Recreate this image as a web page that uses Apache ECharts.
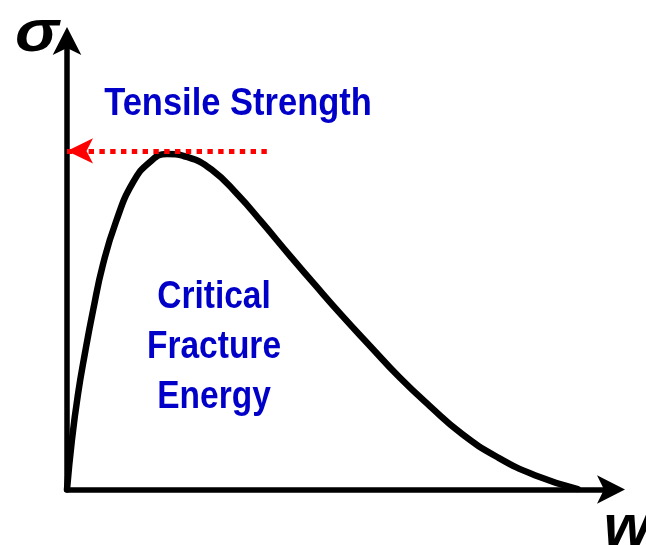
<!DOCTYPE html>
<html>
<head>
<meta charset="utf-8">
<script src="https://cdn.jsdelivr.net/npm/echarts@6/dist/echarts.min.js"></script>
<style>
  html, body { margin: 0; padding: 0; background: #fff; }
  #chart { width: 646px; height: 545px; }
</style>
</head>
<body>
<div id="chart"></div>
<script>
// curve (w on a 0-10 scale, sigma on a 0-10 scale)
const wValues = [0, 0.09, 0.2, 0.33, 0.48, 0.66, 0.9, 1.21, 1.53, 1.84, 2.22, 2.67, 3.14, 3.58, 4.1, 4.56, 5.06, 5.57, 6.12, 6.67, 7.26, 7.9, 8.6, 9.39]
const sigmaValues = [0, 1.1, 2.11, 3.04, 4.0, 5.01, 5.97, 6.84, 7.31, 7.48, 7.41, 7.12, 6.57, 5.96, 5.21, 4.56, 3.87, 3.2, 2.49, 1.86, 1.24, 0.73, 0.32, 0.01]

// red dotted "tensile strength" marker
const tensileStrength = 7.55
const tensileLineFrom = 3.77
const tensileLineTo = 0

const yLabel = 'σ'
const xLabel = 'w'
const topLabel = 'Tensile Strength'
const areaLabel = 'Critical\nFracture\nEnergy'

const font = "'Liberation Sans', Arial, sans-serif"
const blue = '#0000c8'

const chart = echarts.init(document.getElementById('chart'), null, { renderer: 'canvas' })

const axisCommon = {
  type: 'value',
  min: 0,
  max: 10,
  axisLine: {
    show: true,
    symbol: ['none', 'arrow'],
    symbolSize: [21.5, 28],
    symbolOffset: [0, 14],
    lineStyle: { color: '#000', width: 5.5 },
  },
  axisTick: { show: false },
  axisLabel: { show: false },
  splitLine: { show: false },
}

chart.setOption({
  animation: false,
  backgroundColor: '#fff',
  grid: { left: 67, right: 35, top: 41, bottom: 55.5 },
  xAxis: { ...axisCommon, axisLine: { ...axisCommon.axisLine, onZero: false } },
  yAxis: { ...axisCommon },
  series: [
    {
      type: 'line',
      data: wValues.map((w, i) => [w, sigmaValues[i]]),
      smooth: 0.5,
      symbol: 'none',
      z: 3,
      lineStyle: { color: '#000', width: 6.5, cap: 'round' },
      markLine: {
        silent: true,
        symbol: ['arrow', 'none'],
        symbolSize: [19, 26],
        label: { show: false },
        lineStyle: { color: '#ff0000', width: 5, type: [5.4, 5.4], cap: 'butt' },
        data: [[
          { coord: [tensileLineTo, tensileStrength] },
          { coord: [tensileLineFrom, tensileStrength] },
        ]],
      },
    },
  ],
  graphic: [
    {
      type: 'text', x: 37, y: 34, scaleX: 1.1,
      style: { text: yLabel, font: `italic bold 60px ${font}`, fill: '#000', align: 'center', verticalAlign: 'middle' },
    },
    {
      type: 'text', x: 627, y: 529,
      style: { text: xLabel, font: `italic bold 60px ${font}`, fill: '#000', align: 'center', verticalAlign: 'middle' },
    },
    {
      type: 'text', x: 238, y: 104.5, scaleY: 1.12,
      style: { text: topLabel, font: `bold 34.5px ${font}`, fill: blue, align: 'center', verticalAlign: 'middle' },
    },
    {
      type: 'text', x: 214, y: 347, scaleY: 1.18,
      style: { text: areaLabel, font: `bold 33.5px ${font}`, lineHeight: 42.4, fill: blue, align: 'center', verticalAlign: 'middle' },
    },
  ],
})
</script>
</body>
</html>
